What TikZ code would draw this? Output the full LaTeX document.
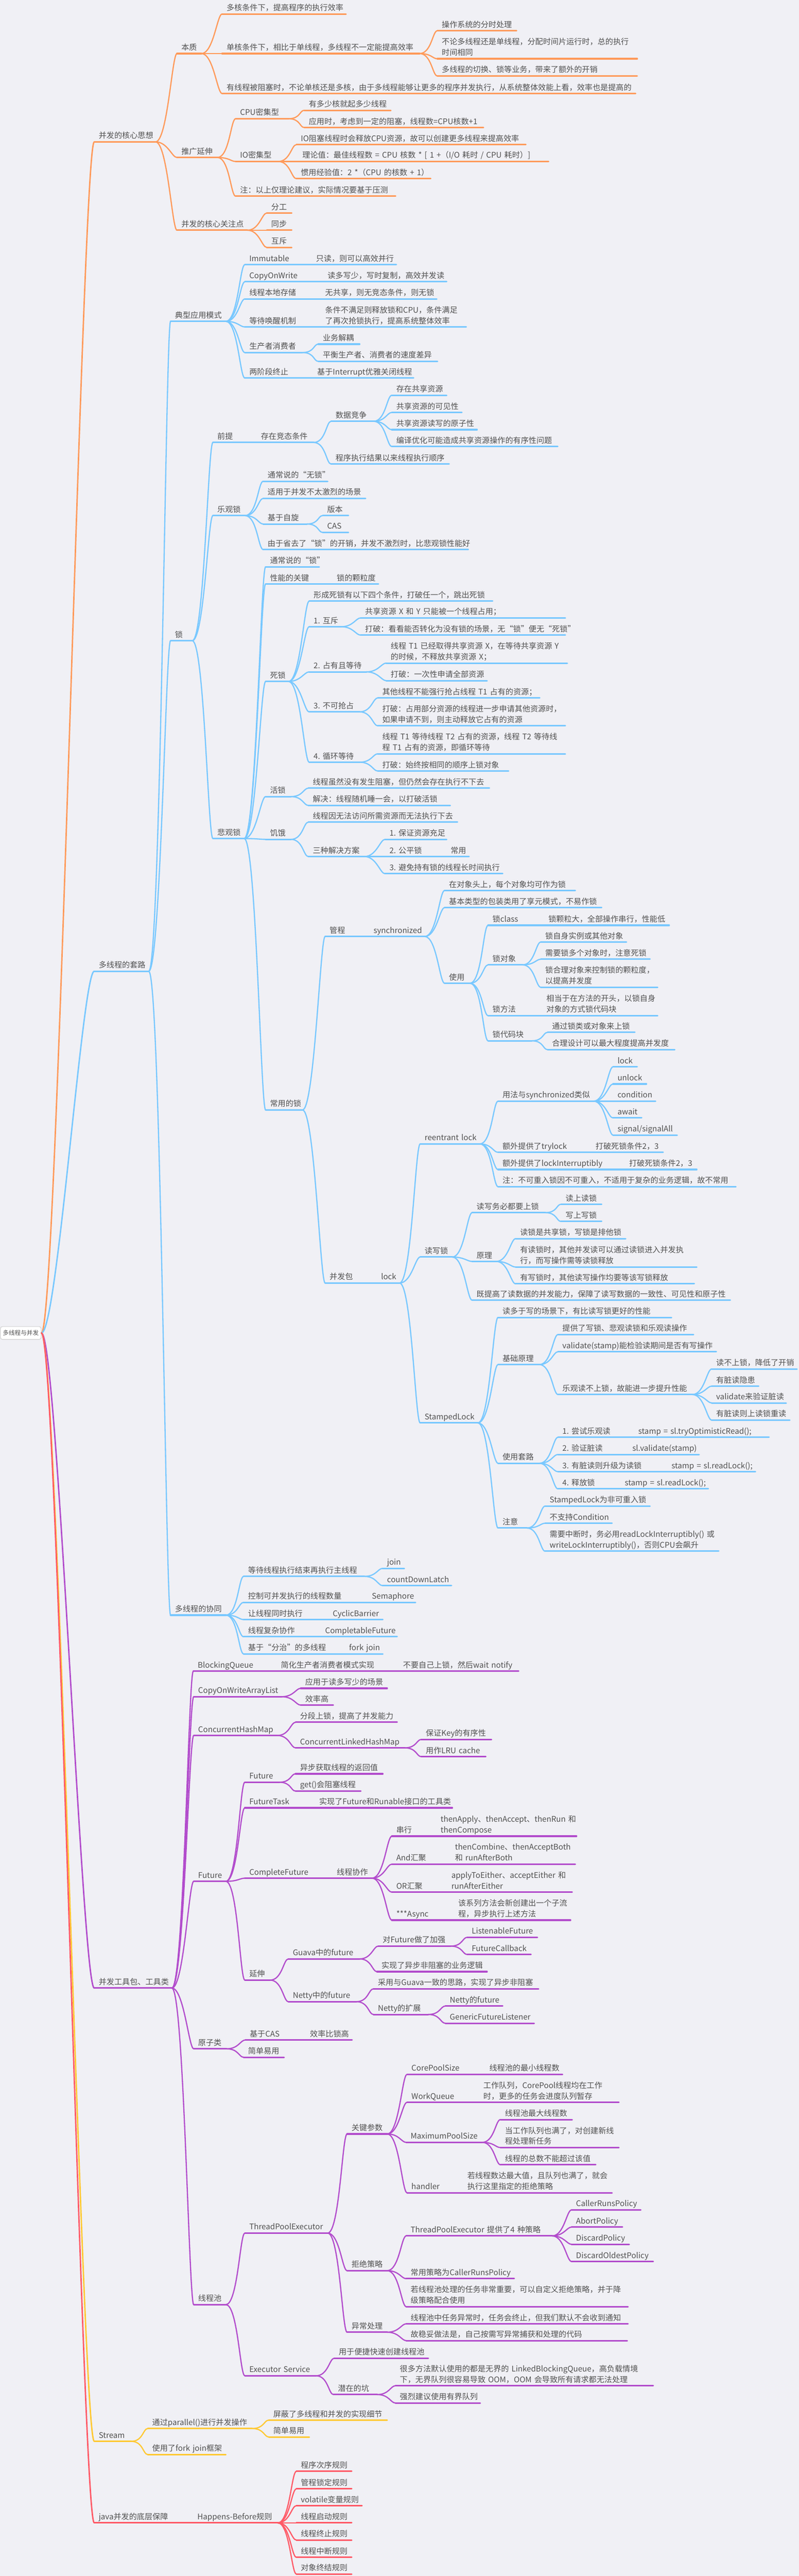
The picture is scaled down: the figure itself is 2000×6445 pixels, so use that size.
\documentclass[tikz,border=0pt]{standalone}
\usepackage{fontspec}
\setmainfont{Noto Sans CJK SC}
\usepackage{tikz}

\definecolor{bgc}{HTML}{F0F0F5}
\definecolor{txtc}{HTML}{505050}
\definecolor{cOrange}{HTML}{FF9A5A}
\definecolor{cBlue}{HTML}{78C8FF}
\definecolor{cPurple}{HTML}{B24CCC}
\definecolor{cYellow}{HTML}{FFC933}
\definecolor{cRed}{HTML}{FF5A67}

\begin{document}
\begin{tikzpicture}[x=1pt, y=-1pt,
  ul/.style={draw=brc, line width=4pt, line cap=round},
  tp/.style={anchor=south west, inner xsep=11pt, inner ysep=0pt, text=txtc,
    font=\fontsize{19.5}{27}\selectfont, align=left, text width=#1pt-22pt,
    execute at begin node={\hyphenpenalty=10000 \exhyphenpenalty=10000 },
    execute at end node={\strut},
    append after command={(\tikzlastnode.south west) edge[ul] (\tikzlastnode.south east)}},
  ln/.style={draw=brc, line width=3pt, line cap=round,
    to path={(\tikztostart.south east) .. controls +(30,0) and +(-12,0) .. (\tikztotarget.south west)}},
  rootln/.style={line width=3.5pt, line cap=round,
    to path={(\tikztostart.east) .. controls +(40,0) and +(-30,0) .. (\tikztotarget.south west)}},
  rootbox/.style={draw=gray!35, fill=white, line width=1.5pt, rounded corners=5pt,
    inner xsep=6pt, inner ysep=9pt, text=txtc, font=\fontsize{15}{18}\selectfont}]
\useasboundingbox (0,0) rectangle (2000,6445);
\fill[bgc] (0,0) rectangle (2000,6445);

\node[rootbox] (root) at (52,3335) {多线程与并发};

% 并发的核心思想
\colorlet{brc}{cOrange}
\node[tp=153] (a) at (236,355) {并发的核心思想};
\node[tp=61] (a1) at (443,134) {本质};
\node[tp=310] (a11) at (556,35) {多核条件下，提高程序的执行效率};
\node[tp=494] (a12) at (556,134) {单核条件下，相比于单线程，多线程不一定能提高效率};
\node[tp=198] (a121) at (1095,77) {操作系统的分时处理};
\node[tp=500] (a122) at (1095,147) {不论多线程还是单线程，分配时间片运行时，总的执行\\时间相同};
\node[tp=500] (a123) at (1095,190) {多线程的切换、锁等业务，带来了额外的开销};
\node[tp=1035] (a13) at (556,234) {有线程被阻塞时，不论单核还是多核，由于多线程能够让更多的程序并发执行，从系统整体效能上看，效率也是提高的};
\node[tp=101] (a2) at (443,394) {推广延伸};
\node[tp=132] (a21) at (590,297) {CPU密集型};
\node[tp=216] (a211) at (762,276) {有多少核就起多少线程};
\node[tp=448] (a212) at (762,319) {应用时，考虑到一定的阻塞，线程数=CPU核数+1};
\node[tp=106] (a22) at (590,404) {IO密集型};
\node[tp=574] (a221) at (742,362) {IO阻塞线程时会释放CPU资源，故可以创建更多线程来提高效率};
\node[tp=627] (a222) at (746,404) {理论值：最佳线程数~=~CPU~核数~*~[~1~+（I/O~耗时~/~CPU~耗时）]};
\node[tp=336] (a223) at (742,447) {惯用经验值：2~*（CPU~的核数~+~1）};
\node[tp=400] (a23) at (590,491) {注：以上仅理论建议，实际情况要基于压测};
\node[tp=176] (a3) at (443,576) {并发的核心关注点};
\node[tp=62] (a31) at (668,533) {分工};
\node[tp=62] (a32) at (668,576) {同步};
\node[tp=62] (a33) at (668,619) {互斥};

\path[ln] (a) edge (a1) edge (a2) edge (a3);
\path[ln] (a1) edge (a11) edge (a12) edge (a13);
\path[ln] (a12) edge (a121) edge (a122) edge (a123);
\path[ln] (a2) edge (a21) edge (a22) edge (a23);
\path[ln] (a21) edge (a211) edge (a212);
\path[ln] (a22) edge (a221) edge (a222) edge (a223);
\path[ln] (a3) edge (a31) edge (a32) edge (a33);

% 多线程的套路
\colorlet{brc}{cBlue}
\node[tp=136] (b) at (236,2430) {多线程的套路};
\node[tp=138] (b1) at (427,804) {典型应用模式};
\node[tp=167] (b11) at (613,662) {Immutable};
\node[tp=212] (b111) at (780,662) {只读，则可以高效并行};
\node[tp=196] (b12) at (613,705) {CopyOnWrite};
\node[tp=309] (b121) at (809,705) {读多写少，写时复制，高效并发读};
\node[tp=190] (b13) at (613,748) {线程本地存储};
\node[tp=290] (b131) at (803,748) {无共享，则无竞态条件，则无锁};
\node[tp=190] (b14) at (613,818) {等待唤醒机制};
\node[tp=364] (b141) at (803,818) {条件不满足则释放锁和CPU，条件满足\\了再次抢锁执行，提高系统整体效率};
\node[tp=144] (b15) at (613,882) {生产者消费者};
\node[tp=103] (b151) at (797,861) {业务解耦};
\node[tp=298] (b152) at (797,904) {平衡生产者、消费者的速度差异};
\node[tp=170] (b16) at (613,946) {两阶段终止};
\node[tp=252] (b161) at (783,946) {基于Interrupt优雅关闭线程};

\node[tp=54] (b2) at (427,1603) {锁};
\node[tp=109] (b21) at (533,1107) {前提};
\node[tp=143] (b211) at (642,1107) {存在竞态条件};
\node[tp=106] (b2111) at (829,1054) {数据竞争};
\node[tp=137] (b21111) at (981,989) {存在共享资源};
\node[tp=175] (b21112) at (981,1032) {共享资源的可见性};
\node[tp=213] (b21113) at (981,1075) {共享资源读写的原子性};
\node[tp=415] (b21114) at (981,1117) {编译优化可能造成共享资源操作的有序性问题};
\node[tp=295] (b2112) at (829,1161) {程序执行结果以来线程执行顺序};
\node[tp=80] (b22) at (533,1290) {乐观锁};
\node[tp=161] (b221) at (659,1204) {通常说的“无锁”};
\node[tp=256] (b222) at (659,1247) {适用于并发不太激烈的场景};
\node[tp=109] (b223) at (659,1311) {基于自旋};
\node[tp=64] (b2231) at (808,1290) {版本};
\node[tp=64] (b2232) at (808,1332) {CAS};
\node[tp=513] (b224) at (659,1375) {由于省去了“锁”的开销，并发不激烈时，比悲观锁性能好};
\node[tp=78] (b23) at (533,2098) {悲观锁};
\node[tp=134] (b231) at (665,1418) {通常说的“锁”};
\node[tp=167] (b232) at (665,1461) {性能的关键};
\node[tp=115] (b2321) at (832,1461) {锁的颗粒度};
\node[tp=57] (b233) at (665,1705) {死锁};
\node[tp=459] (b2331) at (774,1504) {形成死锁有以下四个条件，打破任一个，跳出死锁};
\node[tp=80] (b2332) at (774,1568) {1.~互斥};
\node[tp=512] (b23321) at (903,1546) {共享资源~X~和~Y~只能被一个线程占用；};
\node[tp=512] (b23322) at (903,1589) {打破：看看能否转化为没有锁的场景，无“锁”便无“死锁”};
\node[tp=143] (b2333) at (774,1681) {2.~占有且等待};
\node[tp=453] (b23331) at (967,1659) {线程~T1~已经取得共享资源~X，在等待共享资源~Y\\的时候，不释放共享资源~X；};
\node[tp=252] (b23332) at (967,1703) {打破：一次性申请全部资源};
\node[tp=126] (b2334) at (774,1781) {3.~不可抢占};
\node[tp=405] (b23341) at (946,1746) {其他线程不能强行抢占线程~T1~占有的资源；};
\node[tp=469] (b23342) at (946,1816) {打破：占用部分资源的线程进一步申请其他资源时，\\如果申请不到，则主动释放它占有的资源};
\node[tp=126] (b2335) at (774,1907) {4.~循环等待};
\node[tp=469] (b23351) at (946,1886) {线程~T1~等待线程~T2~占有的资源，线程~T2~等待线\\程~T1~占有的资源，即循环等待};
\node[tp=327] (b23352) at (946,1929) {打破：始终按相同的顺序上锁对象};
\node[tp=63] (b234) at (665,1993) {活锁};
\node[tp=453] (b2341) at (772,1972) {线程虽然没有发生阻塞，但仍然会存在执行不下去};
\node[tp=355] (b2342) at (772,2015) {解决：线程随机睡一会，以打破活锁};
\node[tp=63] (b235) at (665,2100) {饥饿};
\node[tp=373] (b2351) at (772,2057) {线程因无法访问所需资源而无法执行下去};
\node[tp=140] (b2352) at (772,2143) {三种解决方案};
\node[tp=154] (b23521) at (964,2100) {1.~保证资源充足};
\node[tp=153] (b23522) at (964,2143) {2.~公平锁};
\node[tp=57] (b235221) at (1117,2143) {常用};
\node[tp=294] (b23523) at (964,2186) {3.~避免持有锁的线程长时间执行};
\node[tp=92] (b236) at (665,2777) {常用的锁};

\node[tp=110] (b2361) at (814,2343) {管程};
\node[tp=139] (s) at (924,2343) {synchronized};
\node[tp=327] (s1) at (1113,2228) {在对象头上，每个对象均可作为锁};
\node[tp=393] (s2) at (1113,2271) {基本类型的包装类用了享元模式，不易作锁};
\node[tp=63] (s3) at (1113,2460) {使用};
\node[tp=140] (s31) at (1222,2315) {锁class};
\node[tp=313] (s311) at (1362,2315) {锁颗粒大，全部操作串行，性能低};
\node[tp=86] (s32) at (1222,2414) {锁对象};
\node[tp=214] (s321) at (1354,2357) {锁自身实例或其他对象};
\node[tp=273] (s322) at (1354,2400) {需要锁多个对象时，注意死锁};
\node[tp=292] (s323) at (1354,2470) {锁合理对象来控制锁的颗粒度，\\以提高并发度};
\node[tp=135] (s33) at (1222,2541) {锁方法};
\node[tp=289] (s331) at (1357,2541) {相当于在方法的开头，以锁自身\\对象的方式锁代码块};
\node[tp=109] (s34) at (1222,2604) {锁代码块};
\node[tp=218] (s341) at (1371,2583) {通过锁类或对象来上锁};
\node[tp=318] (s342) at (1371,2626) {合理设计可以最大程度提高并发度};

\node[tp=129] (b2362) at (814,3210) {并发包};
\node[tp=57] (l) at (943,3210) {lock};
\node[tp=149] (l1) at (1052,2862) {reentrant~lock};
\node[tp=239] (l11) at (1247,2755) {用法与synchronized类似};
\node[tp=60] (l111) at (1535,2669) {lock};
\node[tp=83] (l112) at (1535,2712) {unlock};
\node[tp=106] (l113) at (1535,2755) {condition};
\node[tp=71] (l114) at (1535,2797) {await};
\node[tp=160] (l115) at (1535,2840) {signal/signalAll};
\node[tp=233] (l12) at (1247,2883) {额外提供了trylock};
\node[tp=180] (l121) at (1480,2883) {打破死锁条件2，3};
\node[tp=317] (l13) at (1247,2926) {额外提供了lockInterruptibly};
\node[tp=180] (l131) at (1564,2926) {打破死锁条件2，3};
\node[tp=595] (l14) at (1247,2969) {注：不可重入锁因不可重入，不适用于复杂的业务逻辑，故不常用};
\node[tp=80] (l2) at (1052,3145) {读写锁};
\node[tp=183] (l21) at (1182,3034) {读写务必都要上锁};
\node[tp=101] (l211) at (1405,3013) {读上读锁};
\node[tp=101] (l212) at (1405,3056) {写上写锁};
\node[tp=60] (l22) at (1182,3156) {原理};
\node[tp=275] (l221) at (1291,3099) {读锁是共享锁，写锁是排他锁};
\node[tp=453] (l222) at (1291,3170) {有读锁时，其他并发读可以通过读锁进入并发执\\行，而写操作需等读锁释放};
\node[tp=447] (l223) at (1291,3212) {有写锁时，其他读写操作均要等该写锁释放};
\node[tp=646] (l23) at (1182,3253) {既提高了读数据的并发能力，保障了读写数据的一致性、可见性和原子性};
\node[tp=144] (l3) at (1052,3560) {StampedLock};
\node[tp=434] (l31) at (1247,3296) {读多于写的场景下，有比读写锁更好的性能};
\node[tp=103] (l32) at (1247,3414) {基础原理};
\node[tp=339] (l321) at (1397,3339) {提供了写锁、悲观读锁和乐观读操作};
\node[tp=396] (l322) at (1397,3382) {validate(stamp)能检验读期间是否有写操作};
\node[tp=336] (l323) at (1397,3489) {乐观读不上锁，故能进一步提升性能};
\node[tp=213] (l3231) at (1782,3425) {读不上锁，降低了开销};
\node[tp=117] (l3232) at (1782,3468) {有脏读隐患};
\node[tp=186] (l3233) at (1782,3510) {validate来验证脏读};
\node[tp=195] (l3234) at (1782,3553) {有脏读则上读锁重读};
\node[tp=103] (l33) at (1247,3661) {使用套路};
\node[tp=190] (l331) at (1397,3596) {1.~尝试乐观读};
\node[tp=338] (l3311) at (1587,3596) {stamp~=~sl.tryOptimisticRead();};
\node[tp=175] (l332) at (1397,3639) {2.~验证脏读};
\node[tp=178] (l3321) at (1572,3639) {sl.validate(stamp)};
\node[tp=273] (l333) at (1397,3682) {3.~有脏读则升级为读锁};
\node[tp=221] (l3331) at (1670,3682) {stamp~=~sl.readLock();};
\node[tp=156] (l334) at (1397,3725) {4.~释放锁};
\node[tp=220] (l3341) at (1553,3725) {stamp~=~sl.readLock();};
\node[tp=72] (l34) at (1247,3823) {注意};
\node[tp=262] (l341) at (1365,3768) {StampedLock为非可重入锁};
\node[tp=167] (l342) at (1365,3811) {不支持Condition};
\node[tp=434] (l343) at (1365,3881) {需要中断时，务必用readLockInterruptibly()~或\\writeLockInterruptibly()，否则CPU会飙升};

\node[tp=138] (b3) at (427,4041) {多线程的协同};
\node[tp=302] (b31) at (610,3944) {等待线程执行结束再执行主线程};
\node[tp=54] (b311) at (958,3924) {join};
\node[tp=172] (b312) at (958,3967) {countDownLatch};
\node[tp=310] (b32) at (610,4009) {控制可并发执行的线程数量};
\node[tp=120] (b321) at (920,4009) {Semaphore};
\node[tp=212] (b33) at (610,4052) {让线程同时执行};
\node[tp=136] (b331) at (822,4052) {CyclicBarrier};
\node[tp=193] (b34) at (610,4095) {线程复杂协作};
\node[tp=191] (b341) at (803,4095) {CompletableFuture};
\node[tp=253] (b35) at (610,4138) {基于“分治”的多线程};
\node[tp=95] (b351) at (863,4138) {fork~join};

\path[ln] (b) edge (b1) edge (b2) edge (b3);
\path[ln] (b1) edge (b11) edge (b12) edge (b13) edge (b14) edge (b15) edge (b16);
\path[ln] (b11) edge (b111) (b12) edge (b121) (b13) edge (b131) (b14) edge (b141) (b16) edge (b161);
\path[ln] (b15) edge (b151) edge (b152);
\path[ln] (b2) edge (b21) edge (b22) edge (b23);
\path[ln] (b21) edge (b211) (b211) edge (b2111) edge (b2112);
\path[ln] (b2111) edge (b21111) edge (b21112) edge (b21113) edge (b21114);
\path[ln] (b22) edge (b221) edge (b222) edge (b223) edge (b224);
\path[ln] (b223) edge (b2231) edge (b2232);
\path[ln] (b23) edge (b231) edge (b232) edge (b233) edge (b234) edge (b235) edge (b236);
\path[ln] (b232) edge (b2321);
\path[ln] (b233) edge (b2331) edge (b2332) edge (b2333) edge (b2334) edge (b2335);
\path[ln] (b2332) edge (b23321) edge (b23322);
\path[ln] (b2333) edge (b23331) edge (b23332);
\path[ln] (b2334) edge (b23341) edge (b23342);
\path[ln] (b2335) edge (b23351) edge (b23352);
\path[ln] (b234) edge (b2341) edge (b2342);
\path[ln] (b235) edge (b2351) edge (b2352);
\path[ln] (b2352) edge (b23521) edge (b23522) edge (b23523);
\path[ln] (b23522) edge (b235221);
\path[ln] (b236) edge (b2361) edge (b2362);
\path[ln] (b2361) edge (s);
\path[ln] (s) edge (s1) edge (s2) edge (s3);
\path[ln] (s3) edge (s31) edge (s32) edge (s33) edge (s34);
\path[ln] (s31) edge (s311) (s33) edge (s331);
\path[ln] (s32) edge (s321) edge (s322) edge (s323);
\path[ln] (s34) edge (s341) edge (s342);
\path[ln] (b2362) edge (l);
\path[ln] (l) edge (l1) edge (l2) edge (l3);
\path[ln] (l1) edge (l11) edge (l12) edge (l13) edge (l14);
\path[ln] (l11) edge (l111) edge (l112) edge (l113) edge (l114) edge (l115);
\path[ln] (l12) edge (l121) (l13) edge (l131);
\path[ln] (l2) edge (l21) edge (l22) edge (l23);
\path[ln] (l21) edge (l211) edge (l212);
\path[ln] (l22) edge (l221) edge (l222) edge (l223);
\path[ln] (l3) edge (l31) edge (l32) edge (l33) edge (l34);
\path[ln] (l32) edge (l321) edge (l322) edge (l323);
\path[ln] (l323) edge (l3231) edge (l3232) edge (l3233) edge (l3234);
\path[ln] (l33) edge (l331) edge (l332) edge (l333) edge (l334);
\path[ln] (l331) edge (l3311) (l332) edge (l3321) (l333) edge (l3331) (l334) edge (l3341);
\path[ln] (l34) edge (l341) edge (l342) edge (l343);
\path[ln] (b3) edge (b31) edge (b32) edge (b33) edge (b34) edge (b35);
\path[ln] (b31) edge (b311) edge (b312);
\path[ln] (b32) edge (b321) (b33) edge (b331) (b34) edge (b341) (b35) edge (b351);

% 并发工具包、工具类
\colorlet{brc}{cPurple}
\node[tp=194] (c) at (236,4974) {并发工具包、工具类};
\node[tp=208] (c1) at (484,4181) {BlockingQueue};
\node[tp=306] (c11) at (692,4181) {简化生产者消费者模式实现};
\node[tp=300] (c111) at (998,4181) {不要自己上锁，然后wait~notify};
\node[tp=220] (c2) at (485,4245) {CopyOnWriteArrayList};
\node[tp=216] (c21) at (753,4224) {应用于读多写少的场景};
\node[tp=81] (c22) at (753,4266) {效率高};
\node[tp=209] (c3) at (485,4342) {ConcurrentHashMap};
\node[tp=254] (c31) at (740,4309) {分段上锁，提高了并发能力};
\node[tp=273] (c32) at (740,4373) {ConcurrentLinkedHashMap};
\node[tp=175] (c321) at (1055,4352) {保证Key的有序性};
\node[tp=161] (c322) at (1055,4395) {用作LRU~cache};
\node[tp=80] (c4) at (485,4707) {Future};
\node[tp=86] (c41) at (613,4459) {Future};
\node[tp=218] (c411) at (740,4438) {异步获取线程的返回值};
\node[tp=163] (c412) at (740,4481) {get()会阻塞线程};
\node[tp=175] (c42) at (613,4523) {FutureTask};
\node[tp=344] (c421) at (788,4523) {实现了Future和Runable接口的工具类};
\node[tp=219] (c43) at (613,4699) {CompleteFuture};
\node[tp=99] (c431) at (832,4699) {线程协作};
\node[tp=111] (c4311) at (981,4594) {串行};
\node[tp=351] (c43111) at (1092,4594) {thenApply、thenAccept、thenRun~和\\thenCompose};
\node[tp=147] (c4312) at (981,4664) {And汇聚};
\node[tp=312] (c43121) at (1128,4664) {thenCombine、thenAcceptBoth\\和~runAfterBoth};
\node[tp=138] (c4313) at (981,4734) {OR汇聚};
\node[tp=313] (c43131) at (1119,4734) {applyToEither、acceptEither~和\\runAfterEither};
\node[tp=155] (c4314) at (981,4804) {***Async};
\node[tp=292] (c43141) at (1136,4804) {该系列方法会新创建出一个子流\\程，异步执行上述方法};
\node[tp=63] (c44) at (613,4954) {延伸};
\node[tp=178] (c441) at (722,4901) {Guava中的future};
\node[tp=181] (c4411) at (947,4869) {对Future做了加强};
\node[tp=175] (c44111) at (1170,4847) {ListenableFuture};
\node[tp=159] (c44112) at (1170,4890) {FutureCallback};
\node[tp=275] (c4412) at (944,4933) {实现了异步非阻塞的业务逻辑};
\node[tp=170] (c442) at (722,5008) {Netty中的future};
\node[tp=413] (c4421) at (935,4976) {采用与Guava一致的思路，实现了异步非阻塞};
\node[tp=137] (c4422) at (935,5040) {Netty的扩展};
\node[tp=143] (c44221) at (1115,5019) {Netty的future};
\node[tp=222] (c44222) at (1115,5062) {GenericFutureListener};
\node[tp=82] (c5) at (485,5126) {原子类};
\node[tp=151] (c51) at (614,5104) {基于CAS};
\node[tp=116] (c511) at (765,5104) {效率比锁高};
\node[tp=101] (c52) at (610,5147) {简单易用};
\node[tp=80] (c6) at (485,5766) {线程池};
\node[tp=207] (c61) at (613,5587) {ThreadPoolExecutor};
\node[tp=100] (c611) at (869,5339) {关键参数};
\node[tp=195] (c6111) at (1019,5190) {CorePoolSize};
\node[tp=194] (c61111) at (1214,5190) {线程池的最小线程数};
\node[tp=180] (c6112) at (1019,5260) {WorkQueue};
\node[tp=350] (c61121) at (1199,5260) {工作队列，CorePool线程均在工作\\时，更多的任务会进度队列暂存};
\node[tp=190] (c6113) at (1017,5360) {MaximumPoolSize};
\node[tp=179] (c61131) at (1253,5303) {线程池最大线程数};
\node[tp=296] (c61132) at (1253,5373) {当工作队列也满了，对创建新线\\程处理新任务};
\node[tp=238] (c61133) at (1253,5416) {线程的总数不能超过该值};
\node[tp=140] (c6114) at (1019,5486) {handler};
\node[tp=373] (c61141) at (1159,5486) {若线程数达最大值，且队列也满了，就会\\执行这里指定的拒绝策略};
\node[tp=100] (c612) at (869,5681) {拒绝策略};
\node[tp=365] (c6121) at (1017,5594) {ThreadPoolExecutor~提供了4~种策略};
\node[tp=173] (c61211) at (1431,5529) {CallerRunsPolicy};
\node[tp=127] (c61212) at (1431,5572) {AbortPolicy};
\node[tp=144] (c61213) at (1431,5615) {DiscardPolicy};
\node[tp=204] (c61214) at (1431,5658) {DiscardOldestPolicy};
\node[tp=270] (c6122) at (1017,5701) {常用策略为CallerRunsPolicy};
\node[tp=555] (c6123) at (1017,5771) {若线程池处理的任务非常重要，可以自定义拒绝策略，并于降\\级策略配合使用};
\node[tp=100] (c613) at (869,5835) {异常处理};
\node[tp=555] (c6131) at (1017,5814) {线程池中任务异常时，任务会终止，但我们默认不会收到通知};
\node[tp=553] (c6132) at (1017,5856) {故稳妥做法是，自己按需写异常捕获和处理的代码};
\node[tp=178] (c62) at (613,5944) {Executor~Service};
\node[tp=235] (c621) at (837,5900) {用于便捷快速创建线程池};
\node[tp=109] (c622) at (835,5991) {潜在的坑};
\node[tp=645] (c6221) at (990,5969) {很多方法默认使用的都是无界的~LinkedBlockingQueue，高负载情境\\下，无界队列很容易导致~OOM，OOM~会导致所有请求都无法处理};
\node[tp=212] (c6222) at (990,6012) {强烈建议使用有界队列};

\path[ln] (c) edge (c1) edge (c2) edge (c3) edge (c4) edge (c5) edge (c6);
\path[ln] (c1) edge (c11) (c11) edge (c111);
\path[ln] (c2) edge (c21) edge (c22);
\path[ln] (c3) edge (c31) edge (c32);
\path[ln] (c32) edge (c321) edge (c322);
\path[ln] (c4) edge (c41) edge (c42) edge (c43) edge (c44);
\path[ln] (c41) edge (c411) edge (c412);
\path[ln] (c42) edge (c421) (c43) edge (c431);
\path[ln] (c431) edge (c4311) edge (c4312) edge (c4313) edge (c4314);
\path[ln] (c4311) edge (c43111) (c4312) edge (c43121) (c4313) edge (c43131) (c4314) edge (c43141);
\path[ln] (c44) edge (c441) edge (c442);
\path[ln] (c441) edge (c4411) edge (c4412);
\path[ln] (c4411) edge (c44111) edge (c44112);
\path[ln] (c442) edge (c4421) edge (c4422);
\path[ln] (c4422) edge (c44221) edge (c44222);
\path[ln] (c5) edge (c51) edge (c52);
\path[ln] (c51) edge (c511);
\path[ln] (c6) edge (c61) edge (c62);
\path[ln] (c61) edge (c611) edge (c612) edge (c613);
\path[ln] (c611) edge (c6111) edge (c6112) edge (c6113) edge (c6114);
\path[ln] (c6111) edge (c61111) (c6112) edge (c61121) (c6114) edge (c61141);
\path[ln] (c6113) edge (c61131) edge (c61132) edge (c61133);
\path[ln] (c612) edge (c6121) edge (c6122) edge (c6123);
\path[ln] (c6121) edge (c61211) edge (c61212) edge (c61213) edge (c61214);
\path[ln] (c613) edge (c6131) edge (c6132);
\path[ln] (c62) edge (c621) edge (c622);
\path[ln] (c622) edge (c6221) edge (c6222);

% Stream
\colorlet{brc}{cYellow}
\node[tp=92] (d) at (236,6108) {Stream};
\node[tp=261] (d1) at (370,6076) {通过parallel()进行并发操作};
\node[tp=296] (d11) at (673,6055) {屏蔽了多线程和并发的实现细节};
\node[tp=101] (d12) at (673,6097) {简单易用};
\node[tp=195] (d2) at (370,6141) {使用了fork~join框架};

\path[ln] (d) edge (d1) edge (d2);
\path[ln] (d1) edge (d11) edge (d12);

% java并发的底层保障
\colorlet{brc}{cRed}
\node[tp=247] (e) at (236,6312) {java并发的底层保障};
\node[tp=212] (e1) at (483,6312) {Happens-Before规则};
\node[tp=138] (e11) at (742,6183) {程序次序规则};
\node[tp=138] (e12) at (742,6227) {管程锁定规则};
\node[tp=164] (e13) at (742,6269) {volatile变量规则};
\node[tp=138] (e14) at (742,6312) {线程启动规则};
\node[tp=138] (e15) at (742,6355) {线程终止规则};
\node[tp=138] (e16) at (742,6398) {线程中断规则};
\node[tp=138] (e17) at (742,6440) {对象终结规则};

\path[ln] (e) edge (e1);
\path[ln] (e1) edge (e11) edge (e12) edge (e13) edge (e14) edge (e15) edge (e16) edge (e17);

\path[rootln] (root) edge[draw=cOrange] (a) edge[draw=cBlue] (b) edge[draw=cPurple] (c)
  edge[draw=cYellow] (d) edge[draw=cRed] (e);
\end{tikzpicture}
\end{document}
